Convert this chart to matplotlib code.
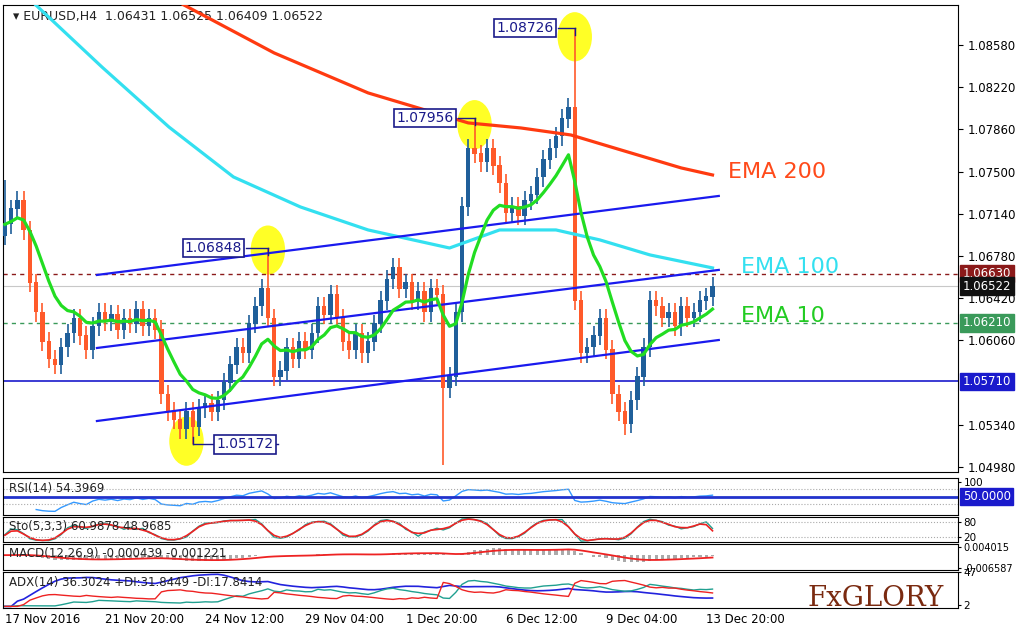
import numpy as np
import matplotlib
matplotlib.use("Agg")
import matplotlib.pyplot as plt
from matplotlib.patches import Ellipse

# closes of the H4 candles
closes = [1.0705, 1.0718, 1.0725, 1.0700, 1.0655, 1.0630, 1.0605, 1.0590, 1.0585, 1.0600,
          1.0612, 1.0625, 1.0610, 1.0598, 1.0618, 1.0630, 1.0622, 1.0628, 1.0615, 1.0625,
          1.0620, 1.0632, 1.0618, 1.0625, 1.0615, 1.0560, 1.0545, 1.0538, 1.0530, 1.0545,
          1.0532, 1.0548, 1.0552, 1.0545, 1.0555, 1.0570, 1.0585, 1.0600, 1.0595, 1.0620,
          1.0635, 1.0650, 1.0625, 1.0575, 1.0580, 1.0600, 1.0590, 1.0605, 1.0598, 1.0612,
          1.0635, 1.0628, 1.0645, 1.0625, 1.0605, 1.0598, 1.0612, 1.0595, 1.0605, 1.0620,
          1.0640, 1.0658, 1.0668, 1.0650, 1.0655, 1.0640, 1.0648, 1.0630, 1.0650, 1.0645,
          1.0565, 1.0575, 1.0630, 1.0720, 1.0770, 1.0765, 1.0758, 1.0770, 1.0755, 1.0740,
          1.0715, 1.0720, 1.0712, 1.0725, 1.0730, 1.0745, 1.0760, 1.0770, 1.0780, 1.0795,
          1.0805, 1.0640, 1.0595, 1.0600, 1.0610, 1.0625, 1.0598, 1.0560, 1.0545, 1.0535,
          1.0555, 1.0575, 1.0600, 1.0640, 1.0635, 1.0625, 1.0630, 1.0618, 1.0635, 1.0625,
          1.0630, 1.0640, 1.0643, 1.0652]
first_open = 1.0695
# extreme wicks (bar index -> high / low)
spike_highs = {91: 1.08726, 75: 1.07956, 42: 1.06848, 0: 1.0743}
spike_lows = {30: 1.05172, 70: 1.0500, 99: 1.0525}

# EMA 100 / EMA 200 read as (bar, price)
ema100_pts = [(4.6, 1.08938), (15.5, 1.08392), (26.2, 1.07880), (36.5, 1.07454), (47.2, 1.07198),
              (58, 1.07002), (71, 1.06848), (79, 1.07002), (88, 1.07002), (95, 1.06917),
              (103, 1.06789), (113, 1.06678)]
ema200_pts = [(28, 1.08938), (43, 1.08512), (58, 1.08171), (74, 1.07915), (82.4, 1.07872),
              (90.4, 1.07812), (98.4, 1.07684), (108, 1.07531), (113, 1.07471)]

# channel lines (bar, price) start/end
channel = [[(14.7, 1.06618), (114, 1.07292)],
           [(14.7, 1.05995), (114, 1.06661)],
           [(14.7, 1.05372), (114, 1.06063)]]

price_ticks = [1.08580, 1.08220, 1.07860, 1.07500, 1.07140, 1.06780, 1.06420, 1.06060, 1.05340, 1.04980]
date_labels = ["17 Nov 2016", "21 Nov 20:00", "24 Nov 12:00", "29 Nov 04:00", "1 Dec 20:00",
               "6 Dec 12:00", "9 Dec 04:00", "13 Dec 20:00"]
date_bars = [0, 16, 32, 48, 64, 80, 96, 112]

closes = np.array(closes)
n = len(closes)
opens = np.concatenate([[first_open], closes[:-1]])
highs = np.maximum(opens, closes) + 0.0008
lows = np.minimum(opens, closes) - 0.0008
for k, v in spike_highs.items():
    highs[k] = v
for k, v in spike_lows.items():
    lows[k] = v
x = np.arange(n)

def ema(a, p):
    out = np.empty(len(a)); out[0] = a[0]; k = 2 / (p + 1)
    for i in range(1, len(a)):
        out[i] = a[i] * k + out[i - 1] * (1 - k)
    return out

W, H = 1024, 636
fig = plt.figure(figsize=(10.24, 6.36), dpi=100)
def ax_at(l, t, r, b):
    return fig.add_axes([l / W, 1 - b / H, (r - l) / W, (b - t) / H])

XL = (-0.3, 152.2)
ax = ax_at(3, 5, 958, 472)
ax.set_xlim(*XL)
ymin, ymax = 1.04937, 1.08921
ax.set_ylim(ymin, ymax)

# highlight circles
for bx, by in [(91, 1.0865), (75, 1.0790), (42, 1.0683), (29, 1.0520)]:
    ax.add_patch(Ellipse((bx, by), 5.5, 0.0042, color="#ffff00", alpha=0.85, zorder=1, lw=0))

up_c, dn_c = "#1f5f9a", "#ff5a2a"
for i in range(n):
    c = up_c if closes[i] >= opens[i] else dn_c
    ax.vlines(x[i], lows[i], highs[i], color=c, lw=1.2, zorder=3)
    ax.bar(x[i], abs(closes[i] - opens[i]) + 0.00005, bottom=min(opens[i], closes[i]),
           width=0.7, color=c, zorder=3)

ax.plot(x, ema(closes, 10), color="#22dd22", lw=2.3, zorder=5)
e1 = np.array(ema100_pts); e2 = np.array(ema200_pts)
ax.plot(e1[:, 0], e1[:, 1], color="#33e0f0", lw=2.3, zorder=4)
ax.plot(e2[:, 0], e2[:, 1], color="#ff3a10", lw=2.3, zorder=4)
for seg in channel:
    ax.plot([seg[0][0], seg[1][0]], [seg[0][1], seg[1][1]], color="#1a1aee", lw=1.6, zorder=4)

ax.axhline(1.05710, color="#1a1acc", lw=1.2, zorder=2)
ax.axhline(1.06630, color="#8b1a1a", lw=1, ls=(0, (3, 3)), zorder=2)
ax.axhline(1.06210, color="#3a9a5a", lw=1, ls=(0, (3, 3)), zorder=2)
ax.axhline(1.06522, color="#c8c8c8", lw=0.8, zorder=1)

bbox = dict(boxstyle="square,pad=0.15", fc="white", ec="#1a1a8a", lw=1.2)
for bx, by, txt, px, py in [(78.5, 1.08726, "1.08726", 91, 1.08726),
                            (62.5, 1.07956, "1.07956", 75, 1.07956),
                            (28.7, 1.06848, "1.06848", 42, 1.06848),
                            (33.8, 1.05172, "1.05172", 30, 1.05172)]:
    t = ax.text(bx, by, txt, fontsize=10, color="#1a1a8a", va="center", bbox=bbox, zorder=7)
    ax.plot([bx + 9.8, px], [py, py], color="#1a1a8a", lw=1, zorder=6)
    ax.plot([px, px], [py, py - 0.0006 if px != 30 else py + 0.0006], color="#1a1a8a", lw=1, zorder=6)
ax.text(115.5, 1.0750, "EMA 200", color="#ff4a1a", fontsize=16, va="center")
ax.text(117.5, 1.0669, "EMA 100", color="#33e0f0", fontsize=16, va="center")
ax.text(117.5, 1.0627, "EMA 10", color="#22cc22", fontsize=16, va="center")
ax.text(0.01, 0.99, "\u25be EURUSD,H4  1.06431 1.06525 1.06409 1.06522", transform=ax.transAxes,
        fontsize=9, va="top", color="#222222")

ax.set_xticks([])
ax.yaxis.tick_right()
ax.set_yticks(price_ticks)
ax.set_yticklabels([f"{t:.5f}" for t in price_ticks], fontsize=8.5)
for val, fc in [(1.06630, "#8b1a1a"), (1.06522, "#111111"), (1.06210, "#3a9a5a"), (1.05710, "#1a1acc")]:
    ax.text(1.005, (val - ymin) / (ymax - ymin), f"{val:.5f}", transform=ax.transAxes, fontsize=8.5,
            color="white", va="center", bbox=dict(boxstyle="square,pad=0.2", fc=fc, ec=fc))

# --- indicators computed from the closes ---
d = np.diff(closes, prepend=closes[0])
g = ema(np.clip(d, 0, None), 27); l_ = ema(np.clip(-d, 0, None), 27)
rsi = 100 - 100 / (1 + g / np.maximum(l_, 1e-9))
ll = np.array([lows[max(0, i - 4):i + 1].min() for i in range(n)])
hh = np.array([highs[max(0, i - 4):i + 1].max() for i in range(n)])
k_ = np.convolve(100 * (closes - ll) / (hh - ll), np.ones(3) / 3, mode="same")
d_ = np.convolve(k_, np.ones(3) / 3, mode="same")
macd = ema(closes, 12) - ema(closes, 26)
sig = ema(macd, 9)
tr = highs - lows
pdm = np.clip(np.diff(highs, prepend=highs[0]), 0, None)
mdm = np.clip(-np.diff(lows, prepend=lows[0]), 0, None)
pdi = 100 * ema(pdm, 27) / ema(tr, 27); mdi = 100 * ema(mdm, 27) / ema(tr, 27)
adx = ema(100 * abs(pdi - mdi) / (pdi + mdi + 1e-9), 27)

def sub(t, b, label):
    a = ax_at(3, t, 958, b)
    a.set_xlim(*XL); a.set_xticks([])
    a.yaxis.tick_right(); a.tick_params(labelsize=7.5, length=2, pad=2)
    a.text(0.006, 0.88, label, transform=a.transAxes, fontsize=8.5, va="top", color="#222222")
    return a

a1 = sub(478, 515, "RSI(14) 54.3969")
a1.plot(x[5:], rsi[5:], color="#3399ff", lw=1)
a1.axhline(50, color="#2233cc", lw=2)
for lv in (30, 70):
    a1.axhline(lv, color="#aaaaaa", lw=0.8, ls=":")
a1.set_ylim(0, 100); a1.set_yticks([90]); a1.set_yticklabels(["100"])
a1.text(1.005, 0.5, "50.0000", transform=a1.transAxes, fontsize=8.5, color="white", va="center",
        bbox=dict(boxstyle="square,pad=0.2", fc="#1a1acc", ec="#1a1acc"))

a2 = sub(517, 542, "Sto(5,3,3) 60.9878 48.9685")
a2.plot(x, k_, color="#20a090", lw=1); a2.plot(x, d_, color="#ee2222", lw=1.2)
for lv in (20, 80):
    a2.axhline(lv, color="#aaaaaa", lw=0.8, ls=":")
a2.set_ylim(0, 100); a2.set_yticks([80, 20])

a3 = sub(544, 570, "MACD(12,26,9) -0.000439 -0.001221")
a3.bar(x, macd, width=0.5, color="#aaaaaa")
a3.plot(x, sig, color="#ee2222", lw=1.3)
a3.set_yticks([0.0042, -0.0068]); a3.set_yticklabels(["0.004015", "-0.006587"])
a3.tick_params(labelsize=7)
a3.set_ylim(-0.008, 0.006)

a4 = sub(572, 608, "ADX(14) 36.3024 +DI:31.8449 -DI:17.8414")
a4.plot(x, adx, color="#2222dd", lw=1.2); a4.plot(x, pdi, color="#20a090", lw=1); a4.plot(x, mdi, color="#ee2222", lw=1)
a4.set_yticks([47, 2])
a4.text(0.985, 0.05, "FxGLORY", transform=a4.transAxes, ha="right", fontsize=20, family="DejaVu Serif",
        color="#7a2a10")
for b, lab in zip(date_bars, date_labels):
    a4.text(b, -0.15, lab, transform=a4.get_xaxis_transform(), fontsize=8.5, va="top", ha="left")

fig.savefig("out.png", dpi=100)
